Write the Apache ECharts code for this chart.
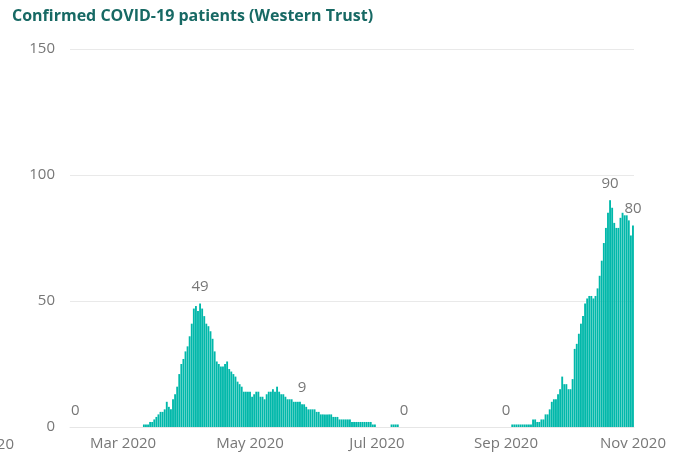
<!DOCTYPE html>
<html>
<head>
<meta charset="utf-8">
<script src="https://cdn.jsdelivr.net/npm/echarts@6/dist/echarts.min.js"></script>
<style>
  html, body { margin: 0; padding: 0; background: #fff; }
  #chart { width: 685px; height: 455px; }
</style>
</head>
<body>
<div id="chart"></div>
<script>
// daily confirmed COVID-19 patients, Western Trust, 5 Feb 2020 .. 1 Nov 2020
const startDate = "2020-02-05";
const febValues = [0,0,0,0,0,0,0,0,0,0,0,0,0,0,0,0,0,0,0,0,0,0,0,0,0];
const marValues = [0,0,0,0,0,0,0,0,0,0,1,1,1,2,2,3,4,5,6,6,7,10,8,7,11,13,16,21,25,27,30];
const aprValues = [32,36,41,47,48,46,49,47,44,41,40,38,35,30,26,25,24,24,25,26,23,22,21,20,18,17,16,14,14,14];
const mayValues = [14,12,13,14,14,12,12,11,13,14,14,15,14,16,14,13,13,12,11,11,11,10,10,10,10,9,9,8,7,7,7];
const junValues = [7,6,6,5,5,5,5,5,5,4,4,4,3,3,3,3,3,3,2,2,2,2,2,2,2,2,2,2,1,1];
const julValues = [0,0,0,0,0,0,0,1,1,1,1,0,0,0,0,0,0,0,0,0,0,0,0,0,0,0,0,0,0,0,0];
const augValues = [0,0,0,0,0,0,0,0,0,0,0,0,0,0,0,0,0,0,0,0,0,0,0,0,0,0,0,0,0,0,0];
const sepValues = [0,0,0,1,1,1,1,1,1,1,1,1,1,3,3,2,2,3,3,5,5,7,10,11,11,13,15,20,17,17];
const octValues = [15,15,19,31,33,37,41,44,49,51,52,52,51,52,55,60,66,73,79,85,90,87,81,79,79,83,85,84,84,82,76];
const novValues = [80];

// days that carry a data label
const labelDates = ["2020-02-07", "2020-04-07", "2020-05-26", "2020-07-14", "2020-09-01", "2020-10-21", "2020-11-01"];
// months shown on the x axis
const tickMonths = ["2020-03-01", "2020-05-01", "2020-07-01", "2020-09-01", "2020-11-01"];
const monthNames = ["Jan","Feb","Mar","Apr","May","Jun","Jul","Aug","Sep","Oct","Nov","Dec"];

const values = [].concat(febValues, marValues, aprValues, mayValues, junValues,
  julValues, augValues, sepValues, octValues, novValues);

const days = [];
const d0 = new Date(startDate + "T00:00:00Z");
for (let i = 0; i < values.length; i++) {
  const d = new Date(d0.getTime() + i * 86400000);
  days.push(d.toISOString().slice(0, 10));
}

const seriesData = values.map((v, i) => {
  if (labelDates.indexOf(days[i]) >= 0) {
    return { value: v, label: { show: true } };
  }
  return v;
});

const fontFamily = "'Open Sans', 'DejaVu Sans', sans-serif";
const chart = echarts.init(document.getElementById("chart"));
chart.setOption({
  animation: false,
  title: {
    text: "Confirmed COVID-19 patients (Western Trust)",
    left: 12,
    top: 8,
    padding: 0,
    textStyle: {
      color: "#176964",
      fontFamily: fontFamily,
      fontWeight: "bold",
      fontSize: 16,
    },
  },
  grid: { left: 70, right: 51, top: 49, bottom: 28 },
  xAxis: {
    type: "category",
    data: days,
    boundaryGap: true,
    axisTick: { show: false },
    axisLine: { lineStyle: { color: "#e6e6e6" } },
    axisLabel: {
      interval: (idx, val) => tickMonths.indexOf(val) >= 0,
      formatter: (val) => {
        const m = parseInt(val.slice(5, 7), 10) - 1;
        return monthNames[m] + " " + val.slice(0, 4);
      },
      color: "#777",
      fontFamily: fontFamily,
      fontSize: 15,
      margin: 9,
    },
  },
  yAxis: {
    type: "value",
    min: 0,
    max: 150,
    interval: 50,
    axisLine: { show: false },
    axisTick: { show: false },
    splitLine: { lineStyle: { color: "#e9e9e9" } },
    axisLabel: {
      color: "#777",
      fontFamily: fontFamily,
      fontSize: 15,
      margin: 15,
    },
  },
  graphic: [
    {
      type: "text",
      x: 14,
      y: 445,
      style: {
        text: "Jan 2020",
        fill: "#777",
        font: "15px " + fontFamily,
        textAlign: "right",
        textVerticalAlign: "middle",
      },
    },
  ],
  series: [
    {
      type: "bar",
      data: seriesData,
      barCategoryGap: "10%",
      itemStyle: { color: "#01B8AA" },
      label: {
        show: false,
        position: "top",
        distance: 9,
        color: "#777",
        fontFamily: fontFamily,
        fontSize: 15,
      },
    },
  ],
});
</script>
</body>
</html>
